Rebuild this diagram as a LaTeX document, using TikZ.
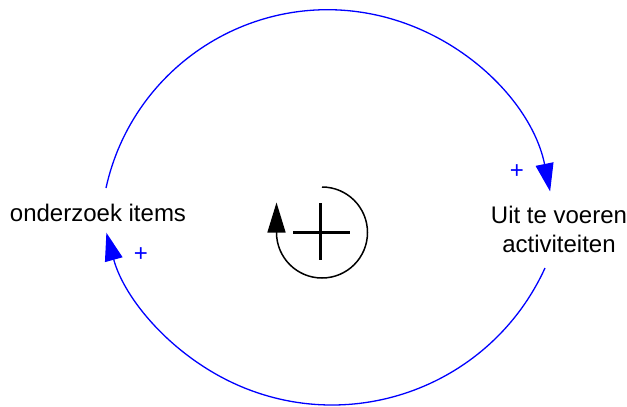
\documentclass[tikz,border=0pt]{standalone}
\usepackage{fontspec}
\setmainfont{Liberation Sans}
\usetikzlibrary{arrows.meta}
\definecolor{linkblue}{RGB}{0,0,255}
\tikzset{
  lbl/.style={font=\fontsize{12}{14.5}\selectfont, align=center, inner sep=0pt},
  pol/.style={font=\fontsize{12}{14}\selectfont, text=linkblue, inner sep=0pt},
  link/.style={draw=linkblue, line width=0.65pt, -{Triangle[length=14pt,width=9pt]}, arrows={[fill=linkblue]}},
  loopsym/.style={draw=black, line width=0.75pt},
}
\begin{document}
\begin{tikzpicture}[x=0.5pt,y=0.5pt]
\useasboundingbox (0,0) rectangle (627,-407);
% variables
\node[lbl] (onderzoek) at (98,-213) {onderzoek items};
\node[lbl] (uit) at (559,-229) {Uit te voeren\\activiteiten};
% arc endpoints
\coordinate (topstart) at (106,-188);
\coordinate (botstart) at (545,-268);
% links
\draw[link] (topstart) arc[start angle=167.6, end angle=11.5, radius=227];
\draw[link] (botstart) arc[start angle=-24.5, end angle=-164.7, radius=234];
% polarities
\node[pol] (p1) at (517,-172) {+};
\node[pol] (p2) at (141,-255) {+};
% loop symbol
\draw[loopsym, -{Triangle[length=15pt,width=9pt]}] (322,-187) arc[start angle=90, end angle=-180, radius=45.5] -- ++(0,30);
\draw[line width=1.5pt] (293,-232) -- (350,-232);
\draw[line width=1.5pt] (320,-203) -- (320,-260);
\end{tikzpicture}
\end{document}
